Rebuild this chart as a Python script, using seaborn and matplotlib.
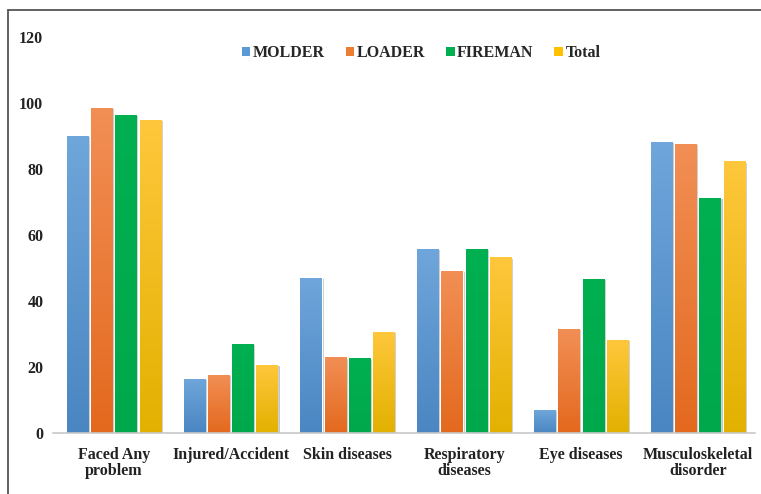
import numpy as np
import pandas as pd
import matplotlib
matplotlib.use("Agg")
import matplotlib.pyplot as plt
import matplotlib.patheffects as pe
from matplotlib.colors import to_rgb
from matplotlib.lines import Line2D
from matplotlib.patches import Patch
import seaborn as sns

categories = ["Faced Any\nproblem", "Injured/Accident", "Skin diseases",
              "Respiratory\ndiseases", "Eye diseases", "Musculoskeletal\ndisorder"]
groups = ["MOLDER", "LOADER", "FIREMAN", "Total"]
molder = [90.0, 16.4, 47.1, 55.8, 6.9, 88.1]
loader = [98.5, 17.6, 22.9, 49.2, 31.5, 87.7]
fireman = [96.4, 27.0, 22.6, 55.8, 46.7, 71.3]
total = [94.8, 20.5, 30.7, 53.2, 28.3, 82.3]
yticks = [0, 20, 40, 60, 80, 100, 120]

# top / bottom shades of each series' gradient fill
top_colors = ["#6FA6DB", "#F28F55", "#00B050", "#FFC73C"]
bottom_colors = ["#4A86C2", "#E3691E", "#00A84C", "#E2B100"]
base_colors = ["#5B9BD5", "#ED7D31", "#00B050", "#FFC000"]

df = pd.DataFrame({
    "category": np.repeat(categories, len(groups)),
    "group": groups * len(categories),
    "value": np.ravel(np.column_stack([molder, loader, fireman, total])),
})

sns.set_theme(style="white")
plt.rcParams["font.family"] = ["Liberation Serif", "DejaVu Serif"]
plt.rcParams["font.weight"] = "bold"

fig = plt.figure(figsize=(7.61, 4.94), dpi=100)
ax = fig.add_axes([53 / 761, 1 - 433 / 494, (755 - 53) / 761, (433 - 37) / 494])

sns.barplot(data=df, x="category", y="value", hue="group", order=categories,
            hue_order=groups, palette=base_colors, width=0.83, gap=0.13,
            ax=ax, legend=False, errorbar=None, saturation=1)

ax.set_ylim(0, 120)
ax.set_xlim(-0.52, 5.49)
ax.set_yticks(yticks)
ax.set_yticklabels([str(v) for v in yticks])
ax.set_xlabel("")
ax.set_ylabel("")
for s in ["top", "right", "left"]:
    ax.spines[s].set_visible(False)
ax.spines["bottom"].set_color("#C8C8C8")
ax.spines["bottom"].set_linewidth(1.2)
ax.tick_params(axis="y", length=0, pad=7, labelsize=11.5, labelcolor="#222222")
ax.tick_params(axis="x", length=0, pad=10, labelsize=11.5, labelcolor="#222222")
for t in ax.get_xticklabels():
    t.set_linespacing(1.05)
    t.set_fontweight("bold")
for t in ax.get_yticklabels():
    t.set_fontweight("bold")

# vertical gradient fill for every bar, clipped to the bar itself
for gi, container in enumerate(ax.containers):
    c_top = np.array(to_rgb(top_colors[gi]))
    c_bot = np.array(to_rgb(bottom_colors[gi]))
    grad = np.linspace(0, 1, 256)[:, None, None]
    img = c_top[None, None, :] * (1 - grad) + c_bot[None, None, :] * grad
    for bar in container:
        x0, y0 = bar.get_x(), bar.get_y()
        w, h = bar.get_width(), bar.get_height()
        bar.set_path_effects([pe.SimplePatchShadow(offset=(1.5, -0.8),
                                                   shadow_rgbFace="#808080",
                                                   alpha=0.45), pe.Normal()])
        im = ax.imshow(img, extent=(x0, x0 + w, y0, y0 + h), aspect="auto",
                       origin="upper", zorder=bar.get_zorder() + 0.1,
                       interpolation="bilinear")
        im.set_clip_path(bar)

ax.set_xlim(-0.52, 5.49)
ax.set_ylim(0, 120)

handles = [Patch(facecolor=c, edgecolor="none") for c in base_colors]
fig.legend(handles, groups, loc="center", bbox_to_anchor=(421 / 761, 1 - 53 / 494),
           ncol=4, frameon=False, handlelength=0.55, handleheight=0.55,
           handletextpad=0.15, columnspacing=1.3,
           prop={"family": "Liberation Serif", "weight": "bold", "size": 11.5})

# outer frame lines (left and top)
fig.add_artist(Line2D([8 / 761, 8 / 761], [0, 1 - 10 / 494], transform=fig.transFigure,
                      color="#555555", linewidth=1.3))
fig.add_artist(Line2D([8 / 761, 1], [1 - 10 / 494, 1 - 10 / 494], transform=fig.transFigure,
                      color="#555555", linewidth=1.3))

fig.savefig("out.png", dpi=100, facecolor="white")
